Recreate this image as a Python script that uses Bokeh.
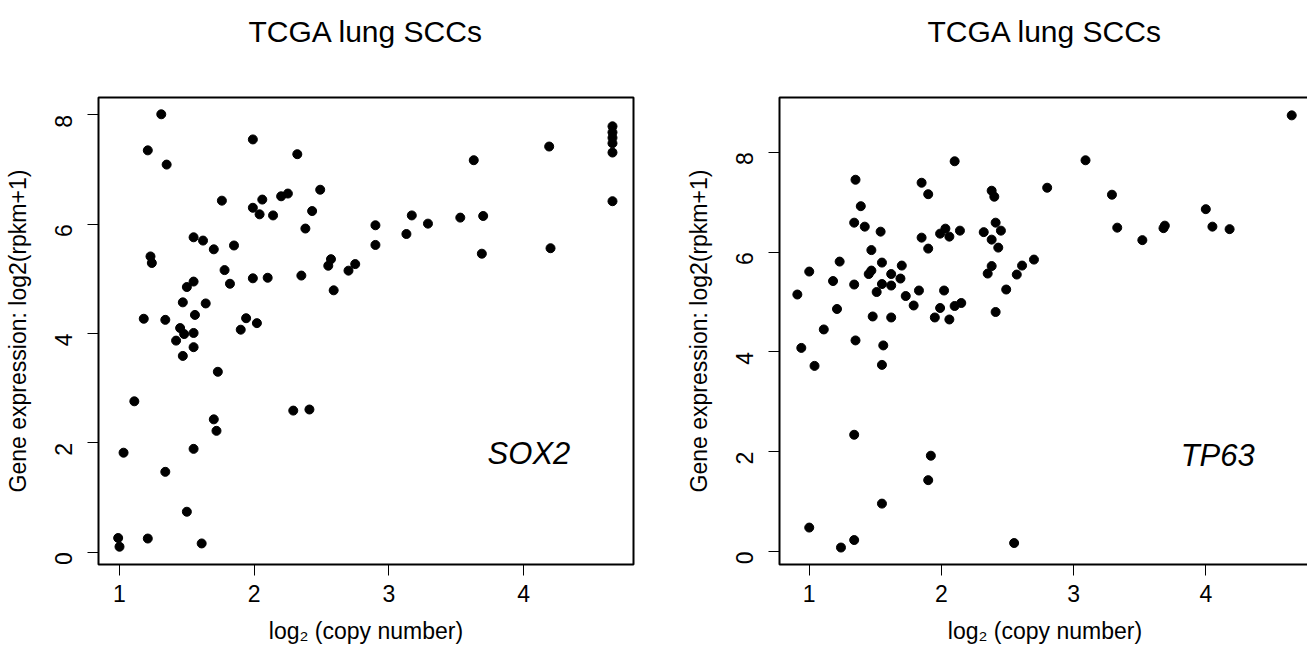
import math
from bokeh.plotting import figure
from bokeh.layouts import row
from bokeh.models import Range1d, FixedTicker, Label
from bokeh.embed import file_html
from bokeh.resources import INLINE

FONT = "Liberation Sans"

# ---------------- data ----------------
sox2_cn = [1.31, 1.21, 1.35, 1.99, 2.32, 1.76, 1.99, 2.06, 2.04, 2.14,
           2.20, 2.25, 2.49, 2.43, 2.38, 1.55, 1.62, 1.70, 1.85, 1.23,
           1.24, 1.78, 1.82, 1.99, 2.10, 2.35, 2.57, 2.55, 2.70, 2.75,
           2.59, 1.55, 1.50, 1.47, 1.64, 1.56, 1.18, 1.34, 1.94, 2.02,
           1.90, 1.45, 1.48, 1.55, 1.42, 1.55, 1.47, 1.73, 1.11, 2.29,
           2.41, 1.70, 1.72, 1.03, 1.55, 1.34, 1.50, 0.99, 1.00, 1.21,
           1.61, 2.90, 2.90, 3.13, 3.17, 3.29, 3.53, 3.70, 3.63, 3.69,
           4.19, 4.20, 4.66, 4.66, 4.66, 4.66, 4.66, 4.66]
sox2_expr = [8.01, 7.35, 7.09, 7.55, 7.28, 6.43, 6.30, 6.45, 6.18, 6.16,
             6.51, 6.56, 6.63, 6.24, 5.92, 5.76, 5.70, 5.54, 5.61, 5.41,
             5.29, 5.16, 4.91, 5.01, 5.02, 5.06, 5.36, 5.24, 5.15, 5.27,
             4.79, 4.95, 4.85, 4.57, 4.55, 4.34, 4.27, 4.25, 4.28, 4.19,
             4.07, 4.10, 3.99, 4.01, 3.87, 3.75, 3.59, 3.30, 2.76, 2.59,
             2.61, 2.43, 2.22, 1.82, 1.89, 1.47, 0.74, 0.26, 0.10, 0.25,
             0.16, 5.98, 5.62, 5.82, 6.16, 6.01, 6.12, 6.15, 7.17, 5.46,
             7.42, 5.56, 7.79, 7.68, 7.58, 7.48, 7.31, 6.42]

tp63_cn = [2.10, 1.35, 1.85, 1.90, 2.38, 2.40, 1.39, 1.34, 1.42, 1.54,
           1.85, 1.90, 2.03, 1.99, 2.06, 2.14, 2.32, 2.41, 2.45, 2.38,
           2.43, 1.47, 1.23, 1.00, 1.55, 1.70, 1.47, 1.45, 1.62, 1.69,
           1.18, 1.34, 1.55, 1.62, 1.51, 0.91, 1.73, 1.83, 2.02, 1.79,
           1.99, 2.10, 2.15, 1.21, 1.48, 1.62, 1.95, 2.06, 2.41, 2.38,
           2.35, 2.61, 2.57, 2.49, 1.11, 1.35, 0.94, 1.56, 1.04, 1.55,
           1.34, 1.92, 1.90, 1.55, 1.00, 1.34, 1.24, 2.55, 4.65, 3.09,
           2.80, 3.29, 3.33, 3.52, 3.69, 3.68, 4.00, 4.05, 4.18, 2.70]
tp63_expr = [7.82, 7.45, 7.39, 7.16, 7.23, 7.11, 6.92, 6.59, 6.51, 6.41,
             6.29, 6.07, 6.47, 6.37, 6.31, 6.43, 6.40, 6.59, 6.43, 6.25,
             6.09, 6.04, 5.81, 5.61, 5.79, 5.73, 5.63, 5.56, 5.56, 5.47,
             5.42, 5.35, 5.36, 5.33, 5.20, 5.15, 5.12, 5.23, 5.23, 4.93,
             4.88, 4.92, 4.98, 4.86, 4.71, 4.69, 4.69, 4.65, 4.80, 5.72,
             5.57, 5.73, 5.55, 5.25, 4.45, 4.23, 4.08, 4.13, 3.72, 3.74,
             2.34, 1.92, 1.43, 0.96, 0.48, 0.23, 0.08, 0.17, 8.74, 7.84,
             7.29, 7.15, 6.49, 6.24, 6.53, 6.48, 6.86, 6.51, 6.46, 5.85]

x_ticks = [1, 2, 3, 4]
y_ticks = [0, 2, 4, 6, 8]
titles = ["TCGA lung SCCs", "TCGA lung SCCs"]
genes = ["SOX2", "TP63"]
x_label = "log\u2082 (copy number)"
y_label = "Gene expression: log2(rpkm+1)"

FRAME_H = 467
TOP = 97


def make_panel(xs, ys, title, gene, gene_pos, xr, yr, fw, b_left, b_right):
    p = figure(frame_width=fw, frame_height=FRAME_H,
               x_range=Range1d(*xr), y_range=Range1d(*yr),
               output_backend="svg", toolbar_location=None,
               min_border=0, min_border_left=b_left, min_border_right=b_right,
               min_border_top=TOP, min_border_bottom=95,
               background_fill_color="white", border_fill_color="white")

    # main title (an empty second line keeps it high in the top margin)
    p.title.text = title + "\n"
    p.title.align = "center"
    p.title.text_font = FONT
    p.title.text_font_size = "30px"
    p.title.text_font_style = "normal"
    p.title.text_color = "black"
    p.title.text_line_height = 1.2
    p.title.standoff = 20

    p.grid.visible = False
    p.outline_line_color = "black"
    p.outline_line_width = 2
    p.outline_line_alpha = 1.0

    for ax in (p.xaxis, p.yaxis):
        ax.axis_line_color = None
        ax.major_tick_line_color = "black"
        ax.major_tick_line_width = 1
        ax.major_tick_out = 11
        ax.major_tick_in = 0
        ax.minor_tick_line_color = None
        ax.major_label_text_font = FONT
        ax.major_label_text_font_size = "23px"
        ax.major_label_text_color = "black"
        ax.axis_label_text_font = FONT
        ax.axis_label_text_font_size = "23px"
        ax.axis_label_text_font_style = "normal"
        ax.axis_label_text_color = "black"
        ax.axis_label_standoff = 13

    p.xaxis.major_label_standoff = 9
    p.yaxis.major_label_standoff = 24
    p.xaxis.ticker = FixedTicker(ticks=x_ticks)
    p.yaxis.ticker = FixedTicker(ticks=y_ticks)
    p.yaxis.major_label_orientation = math.pi / 2
    p.xaxis.axis_label = x_label
    p.yaxis.axis_label = y_label

    p.scatter(xs, ys, size=9, marker="circle", fill_color="black",
              line_color="black", line_width=1)

    p.add_layout(Label(x=gene_pos[0], y=gene_pos[1], text=gene,
                       text_font=FONT, text_font_size="31px",
                       text_font_style="italic", text_align="center",
                       text_baseline="middle", text_color="black"))
    return p


p1 = make_panel(sox2_cn, sox2_expr, titles[0], genes[0], (4.04, 1.80),
                (0.844, 4.816), (-0.225, 8.317), 535, 98, 49)
p2 = make_panel(tp63_cn, tp63_expr, titles[1], genes[1], (4.09, 1.92),
                (0.775, 4.792), (-0.26, 9.098), 531, 90, 3)

layout = row(p1, p2)

with open("out.html", "w") as f:
    f.write(file_html(layout, INLINE))
